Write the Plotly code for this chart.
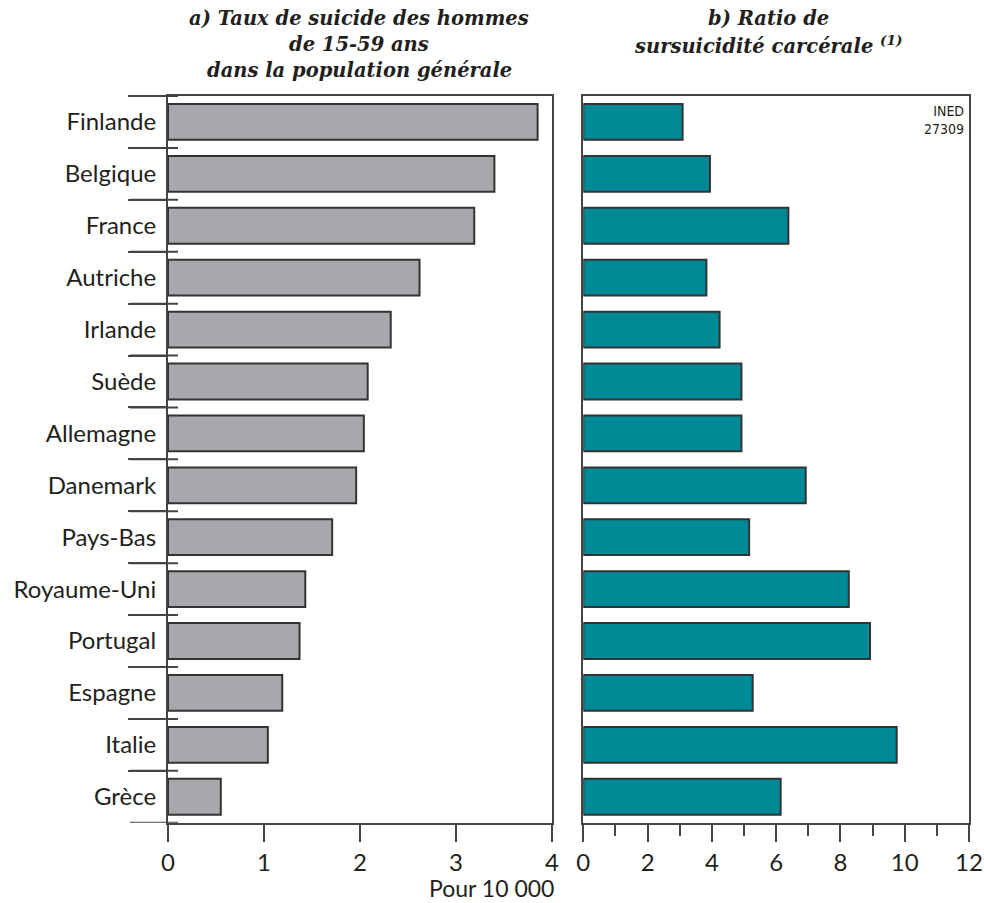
import plotly.graph_objects as go
from plotly.subplots import make_subplots

# Countries, ordered as read top to bottom
countries = ["Finlande", "Belgique", "France", "Autriche", "Irlande", "Suède",
             "Allemagne", "Danemark", "Pays-Bas", "Royaume-Uni", "Portugal",
             "Espagne", "Italie", "Grèce"]

# a) Male suicide rate, ages 15-59, general population (per 10 000)
taux_hommes = [3.85, 3.40, 3.19, 2.62, 2.32, 2.08, 2.04, 1.96, 1.71, 1.43,
               1.37, 1.19, 1.04, 0.55]

# b) Prison excess-suicide ratio
ratio_carceral = [3.09, 3.94, 6.38, 3.83, 4.24, 4.92, 4.92, 6.92, 5.16, 8.26,
                  8.92, 5.27, 9.75, 6.14]

left_ticks = [0, 1, 2, 3, 4]
right_ticks = [0, 2, 4, 6, 8, 10, 12]

title_a = ["a) Taux de suicide des hommes", "de 15-59 ans",
           "dans la population générale"]
title_b = ["b) Ratio de", "sursuicidité carcérale <sup>(1)</sup>"]

W, H = 984, 903
GREY = "#a7a8ab"
TEAL = "#008a97"
EDGE = "#333333"
FRAME = "#444444"
TXT = "#231f20"
SANS = "Lato, 'Noto Sans', sans-serif"
SERIF = "'DejaVu Serif', 'Liberation Serif', serif"

fig = make_subplots(rows=1, cols=2, shared_yaxes=False, horizontal_spacing=0.03)

fig.add_trace(go.Bar(y=countries, x=taux_hommes, orientation="h",
                     marker=dict(color=GREY, line=dict(color=EDGE, width=2)),
                     width=0.69, showlegend=False), row=1, col=1)
fig.add_trace(go.Bar(y=countries, x=ratio_carceral, orientation="h",
                     marker=dict(color=TEAL, line=dict(color=EDGE, width=2)),
                     width=0.69, showlegend=False), row=1, col=2)

ydom = [1 - 822.7 / H, 1 - 96 / H]
n = len(countries)
left_width_px = 384

fig.update_layout(
    width=W, height=H,
    margin=dict(l=0, r=0, t=0, b=0, autoexpand=False),
    paper_bgcolor="white", plot_bgcolor="white",
    xaxis=dict(domain=[168 / W, 552 / W], range=[0, 4], tickvals=left_ticks,
               automargin=False,
               ticks="outside", ticklen=17, tickwidth=2, tickcolor=FRAME,
               showline=True, linecolor=FRAME, linewidth=2, mirror=True,
               showgrid=False, zeroline=False,
               tickfont=dict(family=SANS, size=24, color=TXT)),
    xaxis2=dict(domain=[583.3 / W, 969 / W], range=[0, 12], tickvals=right_ticks,
                automargin=False,
                ticks="outside", ticklen=17, tickwidth=2, tickcolor=FRAME,
                minor=dict(ticks="outside", ticklen=11, tickwidth=2,
                           tickcolor=FRAME, dtick=1),
                showline=True, linecolor=FRAME, linewidth=2, mirror=True,
                showgrid=False, zeroline=False,
                tickfont=dict(family=SANS, size=24, color=TXT)),
    yaxis=dict(domain=ydom, autorange=False, range=[n - 0.5, -0.5],
               type="category", tickson="boundaries", automargin=False,
               ticks="outside", ticklen=38, tickwidth=2, tickcolor=FRAME,
               ticklabelstandoff=5,
               showline=True, linecolor=FRAME, linewidth=2, mirror=True,
               showgrid=False, zeroline=False,
               tickfont=dict(family=SANS, size=24, color=TXT)),
    yaxis2=dict(domain=ydom, autorange=False, range=[n - 0.5, -0.5],
                type="category", showticklabels=False, ticks="",
                automargin=False,
                showline=True, linecolor=FRAME, linewidth=2, mirror=True,
                showgrid=False, zeroline=False),
)

# Category boundary ticks on the left panel, crossing the axis line
for k in range(n + 1):
    fig.add_shape(type="line", xref="x domain", yref="y",
                  x0=-38 / left_width_px, x1=10 / left_width_px,
                  y0=k - 0.5, y1=k - 0.5,
                  line=dict(color=FRAME, width=2))


def px(x, y):
    return x / W, 1 - y / H


annots = []
for i, line in enumerate(title_a):
    ax, ay = px(359, 19 + 25.5 * i)
    annots.append(dict(x=ax, y=ay, xref="paper", yref="paper", xanchor="center",
                       yanchor="middle", showarrow=False,
                       text="<b><i>" + line + "</i></b>",
                       font=dict(family=SERIF, size=19.5, color=TXT)))
for i, line in enumerate(title_b):
    bx, by = px(768, 19 + 25.5 * i)
    annots.append(dict(x=bx, y=by, xref="paper", yref="paper", xanchor="center",
                       yanchor="middle", showarrow=False,
                       text="<b><i>" + line + "</i></b>",
                       font=dict(family=SERIF, size=19.5, color=TXT)))
cx, cy = px(556, 888)
annots.append(dict(x=cx, y=cy, xref="paper", yref="paper", xanchor="right",
                   yanchor="middle", showarrow=False, text="Pour 10 000",
                   font=dict(family=SANS, size=23, color=TXT)))
dx, dy = px(966, 101)
annots.append(dict(x=dx, y=dy, xref="paper", yref="paper", xanchor="right",
                   yanchor="top", showarrow=False, align="right",
                   text="INED<br>27309",
                   font=dict(family="'DejaVu Sans Condensed', 'Liberation Sans Narrow', 'Liberation Sans', sans-serif",
                             size=14, color=TXT)))
fig.update_layout(annotations=annots)

fig.write_html("out.html")
